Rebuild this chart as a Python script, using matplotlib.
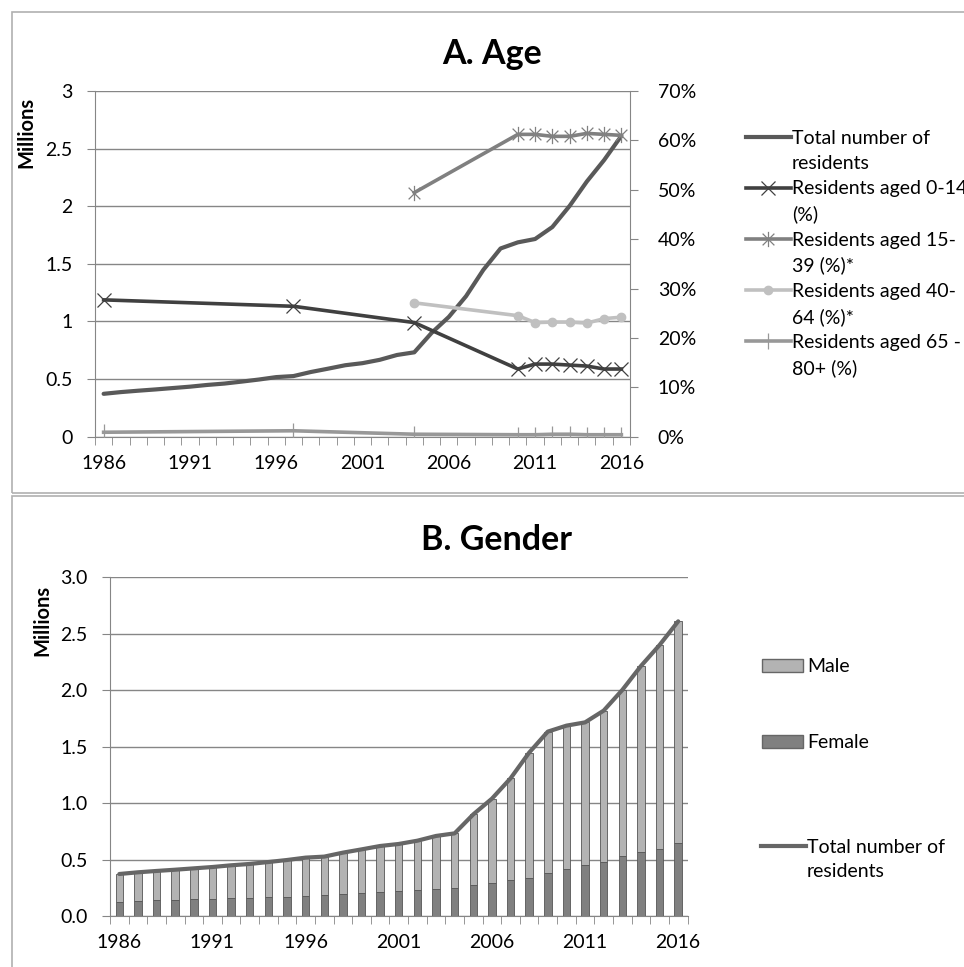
import numpy as np
import matplotlib
matplotlib.use("Agg")
import matplotlib.pyplot as plt
from matplotlib.path import Path
from matplotlib.lines import Line2D
from matplotlib.patches import Rectangle, Patch
from matplotlib.ticker import FuncFormatter

plt.rcParams['font.family'] = ['Lato', 'DejaVu Sans']

# ---- data ----
years = list(range(1986, 2017))
total_mil = [0.372, 0.387, 0.399, 0.410, 0.422, 0.434, 0.449, 0.461, 0.478, 0.496,
             0.517, 0.526, 0.561, 0.590, 0.620, 0.638, 0.667, 0.709, 0.732, 0.900,
             1.039, 1.219, 1.447, 1.633, 1.686, 1.715, 1.819, 2.002, 2.214, 2.400, 2.610]
female_mil = [0.127, 0.133, 0.139, 0.145, 0.148, 0.148, 0.156, 0.159, 0.168, 0.171,
              0.177, 0.186, 0.198, 0.207, 0.216, 0.221, 0.230, 0.242, 0.251, 0.272,
              0.292, 0.316, 0.340, 0.378, 0.416, 0.449, 0.478, 0.528, 0.564, 0.590, 0.644]

years_long = [1986, 1997, 2004, 2010, 2011, 2012, 2013, 2014, 2015, 2016]
years_short = [2004, 2010, 2011, 2012, 2013, 2014, 2015, 2016]
pct_0_14 = [27.7, 26.4, 23.1, 13.7, 14.7, 14.7, 14.5, 14.3, 13.7, 13.7]
pct_15_39 = [49.4, 61.2, 61.2, 60.8, 60.8, 61.4, 61.2, 61.0]
pct_40_64 = [27.1, 24.5, 23.1, 23.2, 23.2, 23.0, 23.9, 24.2]
pct_65_80 = [0.9, 1.2, 0.5, 0.4, 0.4, 0.5, 0.5, 0.4, 0.4, 0.4]

label_years = [1986, 1991, 1996, 2001, 2006, 2011, 2016]

male_mil = [t - f for t, f in zip(total_mil, female_mil)]

GRID = '#868686'
W, H = 964, 967

star = Path([(-1, -1), (1, 1), (-1, 1), (1, -1), (0, -1.3), (0, 1.3)],
            [Path.MOVETO, Path.LINETO, Path.MOVETO, Path.LINETO, Path.MOVETO, Path.LINETO])

fig = plt.figure(figsize=(W / 100, H / 100), dpi=100)

# panel borders
fig.patches.append(Rectangle((11.5 / W, 1 - 493 / H), 1.0, (493 - 11.5) / H,
                             transform=fig.transFigure, fill=False, ec='#b0b0b0', lw=1.2))
fig.patches.append(Rectangle((11.5 / W, -0.1), 1.0, 0.1 + 1 - 495.5 / H,
                             transform=fig.transFigure, fill=False, ec='#b0b0b0', lw=1.2))


def style_xaxis(ax):
    ax.set_xlim(1985.5, 2016.5)
    ax.set_xticks(label_years)
    ax.set_xticks(np.arange(1985.5, 2017, 1.0), minor=True)
    ax.tick_params(axis='x', which='major', length=0, pad=13, labelsize=14)
    ax.tick_params(axis='x', which='minor', length=6, color=GRID, direction='out')
    for s in ['top', 'right']:
        ax.spines[s].set_visible(False)
    ax.spines['left'].set_color(GRID)
    ax.spines['bottom'].set_color(GRID)
    ax.tick_params(axis='y', length=6, color=GRID, labelsize=14, pad=10)
    ax.yaxis.grid(True, color=GRID, lw=1)
    ax.set_axisbelow(True)


# ---- panel A ----
axA = fig.add_axes([95 / W, 1 - 436.7 / H, 535 / W, 345.8 / H])
style_xaxis(axA)
axA.set_ylim(0, 3)
axA.set_yticks([0, 0.5, 1, 1.5, 2, 2.5, 3])
axA.yaxis.set_major_formatter(FuncFormatter(lambda v, p: f"{v:g}"))
axA.plot(years, total_mil, color='#595959', lw=3.0, solid_capstyle='round', zorder=3)
axA.set_ylabel('Millions', fontsize=14.5, weight='bold')
axA.yaxis.set_label_coords(-0.11, 0.88)

axA2 = axA.twinx()
axA2.set_ylim(0, 70)
axA2.set_yticks(range(0, 71, 10))
axA2.yaxis.set_major_formatter(FuncFormatter(lambda v, p: f"{v:.0f}%"))
axA2.tick_params(axis='y', length=6, color=GRID, labelsize=14, pad=14)
for s in ['top', 'left', 'bottom']:
    axA2.spines[s].set_visible(False)
axA2.spines['right'].set_color(GRID)

l1 = axA2.plot(years_long, pct_0_14, color='#404040', lw=2.6, marker='x', ms=10,
               mec='#404040', mew=0.9)[0]
l2 = axA2.plot(years_short, pct_15_39, color='#808080', lw=2.6, marker=star, ms=11,
               mec='#808080', mew=0.9, mfc='none')[0]
l3 = axA2.plot(years_short, pct_40_64, color='#c0c0c0', lw=2.6, marker='o', ms=6,
               mec='#c0c0c0', mfc='#c0c0c0')[0]
l4 = axA2.plot(years_long, pct_65_80, color='#989898', lw=2.6, marker='|', ms=12,
               mec='#989898', mew=0.9)[0]

fig.text(492 / W, 1 - 54 / H, 'A. Age', ha='center', va='center', fontsize=24.5, weight='bold')

blank = Line2D([], [], color='none')
lt = Line2D([], [], color='#595959', lw=3.0)
handlesA = [lt, blank, l1, blank, l2, blank, l3, blank, l4, blank]
labelsA = ['Total number of', 'residents', 'Residents aged 0-14', '(%)',
           'Residents aged 15-', '39 (%)*', 'Residents aged 40-', '64 (%)*',
           'Residents aged 65 -', '80+ (%)']
legA = axA2.legend(handlesA, labelsA, loc='upper left', bbox_to_anchor=(746 / W, 1 - 130 / H),
                   bbox_transform=fig.transFigure, frameon=False, fontsize=14,
                   handlelength=2.3, handletextpad=0.05, labelspacing=0.42,
                   borderpad=0, borderaxespad=0, numpoints=1)

# ---- panel B ----
axB = fig.add_axes([110 / W, 1 - 916 / H, 577.5 / W, 338.7 / H])
style_xaxis(axB)
axB.set_ylim(0, 3)
axB.set_yticks([0, 0.5, 1, 1.5, 2, 2.5, 3])
axB.yaxis.set_major_formatter(FuncFormatter(lambda v, p: f"{v:.1f}"))
bf = axB.bar(years, female_mil, width=0.4, color='#808080', edgecolor='#555555', lw=0.6, zorder=2)
bm = axB.bar(years, male_mil, bottom=female_mil, width=0.4, color='#b3b3b3',
             edgecolor='#555555', lw=0.6, zorder=2)
lb = axB.plot(years, total_mil, color='#666666', lw=3.0, solid_capstyle='round', zorder=3)[0]
axB.set_ylabel('Millions', fontsize=14.5, weight='bold')
axB.yaxis.set_label_coords(-0.10, 0.874)

fig.text(497 / W, 1 - 540 / H, 'B. Gender', ha='center', va='center', fontsize=24.5, weight='bold')

legB1 = axB.legend([Patch(fc='#b3b3b3', ec='#666666'), Patch(fc='#808080', ec='#666666')],
                   ['Male', 'Female'], loc='upper left', bbox_to_anchor=(762 / W, 1 - 658 / H),
                   bbox_transform=fig.transFigure, frameon=False, fontsize=14,
                   handlelength=2.1, handleheight=0.65, handletextpad=0.25, labelspacing=3.04,
                   borderpad=0, borderaxespad=0)
axB.add_artist(legB1)
axB.legend([Line2D([], [], color='#666666', lw=3.0), blank], ['Total number of', 'residents'],
           loc='upper left', bbox_to_anchor=(761 / W, 1 - 839 / H),
           bbox_transform=fig.transFigure, frameon=False, fontsize=14,
           handlelength=2.3, handletextpad=0.05, labelspacing=0.35,
           borderpad=0, borderaxespad=0)

fig.savefig('out.png', dpi=100)
